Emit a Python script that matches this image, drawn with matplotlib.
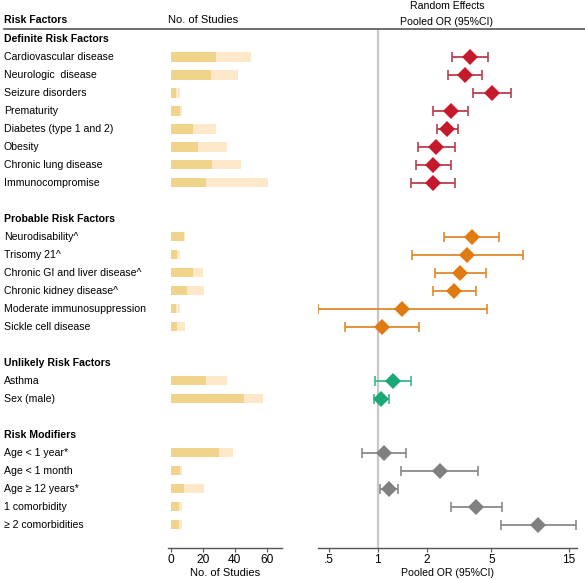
import matplotlib
matplotlib.use("Agg")
import matplotlib.pyplot as plt
import matplotlib.transforms as mtransforms
from matplotlib.ticker import FixedLocator, NullLocator

plt.rcParams["font.family"] = ["Liberation Sans", "DejaVu Sans"]

# ---- data ---------------------------------------------------------------
GROUPS = ["Definite Risk Factors", "Probable Risk Factors",
          "Unlikely Risk Factors", "Risk Modifiers"]
GROUP_COLORS = ["#c41a2c", "#e07b12", "#1aa874", "#808080"]
WHISKER_COLORS = ["#b8404f", "#e08a2e", "#3cb98a", "#8a8a8a"]

LABELS = [
    ["Cardiovascular disease", "Neurologic  disease", "Seizure disorders",
     "Prematurity", "Diabetes (type 1 and 2)", "Obesity",
     "Chronic lung disease", "Immunocompromise"],
    ["Neurodisability^", "Trisomy 21^", "Chronic GI and liver disease^",
     "Chronic kidney disease^", "Moderate immunosuppression",
     "Sickle cell disease"],
    ["Asthma", "Sex (male)"],
    ["Age < 1 year*", "Age < 1 month", "Age \u2265 12 years*",
     "1 comorbidity", "\u2265 2 comorbidities"],
]

STUDIES_MAIN = [
    [28, 25, 3, 6, 14, 17, 26, 22],
    [8, 4, 14, 10, 3, 4],
    [22, 46],
    [30, 6, 8, 5, 5],
]
STUDIES_TOTAL = [
    [50, 42, 6, 7, 28, 35, 44, 61],
    [9, 6, 20, 21, 6, 9],
    [35, 58],
    [39, 7, 21, 7, 7],
]

OR_EST = [
    [3.69, 3.42, 5.01, 2.82, 2.68, 2.28, 2.18, 2.18],
    [3.78, 3.55, 3.22, 2.94, 1.42, 1.06],
    [1.24, 1.05],
    [1.09, 2.41, 1.17, 4.00, 9.70],
]
OR_LO = [
    [2.85, 2.72, 3.83, 2.20, 2.32, 1.78, 1.71, 1.60],
    [2.55, 1.62, 2.26, 2.20, 0.43, 0.63],
    [0.97, 0.945],
    [0.80, 1.40, 1.04, 2.81, 5.74],
]
OR_HI = [
    [4.74, 4.35, 6.56, 3.60, 3.10, 2.98, 2.81, 2.98],
    [5.59, 7.77, 4.61, 4.00, 4.71, 1.79],
    [1.60, 1.18],
    [1.49, 4.11, 1.34, 5.78, 16.5],
]

BAR_TICKS = [0, 20, 40, 60]
OR_TICKS = [0.5, 1, 2, 5, 15]
OR_TICK_LABELS = [".5", "1", "2", "5", "15"]

# ---- style --------------------------------------------------------------
W, H = 585, 580
DPI = 100
FS = 7.6
TICK_FS = 8.6
BAR_DARK = "#f1d48c"
BAR_LIGHT = "#fde9c9"
AXIS_COLOR = "#555555"
Y_TOP = -0.55
Y_BOTTOM = 28.3


def px_rect(x0, x1, ytop, ybot):
    return [x0 / W, 1 - ybot / H, (x1 - x0) / W, (ybot - ytop) / H]


fig = plt.figure(figsize=(W / DPI, H / DPI), dpi=DPI)
ax_bar = fig.add_axes(px_rect(167.7, 281.7, 29, 548))
ax_or = fig.add_axes(px_rect(318, 577, 29, 548))

for ax in (ax_bar, ax_or):
    ax.set_ylim(Y_BOTTOM, Y_TOP)
    for s in ("top", "right", "left"):
        ax.spines[s].set_visible(False)
    ax.spines["bottom"].set_color(AXIS_COLOR)
    ax.spines["bottom"].set_linewidth(1.0)
    ax.yaxis.set_major_locator(NullLocator())
    ax.tick_params(axis="x", length=3, width=0.8, color=AXIS_COLOR,
                   labelsize=TICK_FS, pad=1.5)
    ax.patch.set_alpha(0)

ax_or.set_xscale("log")
ax_or.set_xlim(0.43, 16.8)
ax_or.xaxis.set_major_locator(FixedLocator(OR_TICKS))
ax_or.xaxis.set_minor_locator(NullLocator())
ax_or.set_xticklabels(OR_TICK_LABELS)
ax_or.set_xlabel("Pooled OR (95%CI)", fontsize=FS, labelpad=1.5)
ax_or.axvline(1, ymin=0, ymax=1, color="#c8c8c8", lw=1.6, zorder=0)

ax_bar.set_xlim(-2, 69.4)
ax_bar.set_xticks(BAR_TICKS)
ax_bar.set_xlabel("No. of Studies", fontsize=FS + 0.4, labelpad=1.5)

trans = mtransforms.blended_transform_factory(fig.transFigure, ax_bar.transData)

row = 0
for g, group in enumerate(GROUPS):
    ax_bar.text(4 / W, row, group, transform=trans, fontsize=FS,
                fontweight="bold", va="center", ha="left")
    row += 1
    for i, lab in enumerate(LABELS[g]):
        ax_bar.text(4 / W, row, lab, transform=trans, fontsize=FS,
                    va="center", ha="left")
        ax_bar.barh(row, STUDIES_TOTAL[g][i], left=0, height=0.52,
                    color=BAR_LIGHT, lw=0)
        ax_bar.barh(row, STUDIES_MAIN[g][i], left=0, height=0.52,
                    color=BAR_DARK, lw=0)
        est = OR_EST[g][i]
        ax_or.errorbar(est, row,
                       xerr=[[est - OR_LO[g][i]], [OR_HI[g][i] - est]],
                       fmt="none", ecolor=WHISKER_COLORS[g], elinewidth=1.3,
                       capsize=3.5, capthick=1.2)
        ax_or.plot(est, row, "D", color=GROUP_COLORS[g], markersize=8.3,
                   markeredgewidth=0, zorder=3)
        row += 1
    row += 1

# header
fig.text(4 / W, 1 - 20 / H, "Risk Factors", fontsize=FS, fontweight="bold",
         va="center", ha="left")
fig.text(168 / W, 1 - 20 / H, "No. of Studies", fontsize=FS + 0.4,
         va="center", ha="left")
fig.text(447 / W, 1 - 6 / H, "Random Effects", fontsize=FS,
         va="center", ha="center")
fig.text(447 / W, 1 - 22 / H, "Pooled OR (95%CI)", fontsize=FS,
         va="center", ha="center")
fig.add_artist(plt.Line2D([4 / W, 1], [1 - 29 / H, 1 - 29 / H],
                          transform=fig.transFigure, color=AXIS_COLOR, lw=1.2))

fig.savefig("out.png", dpi=DPI)
